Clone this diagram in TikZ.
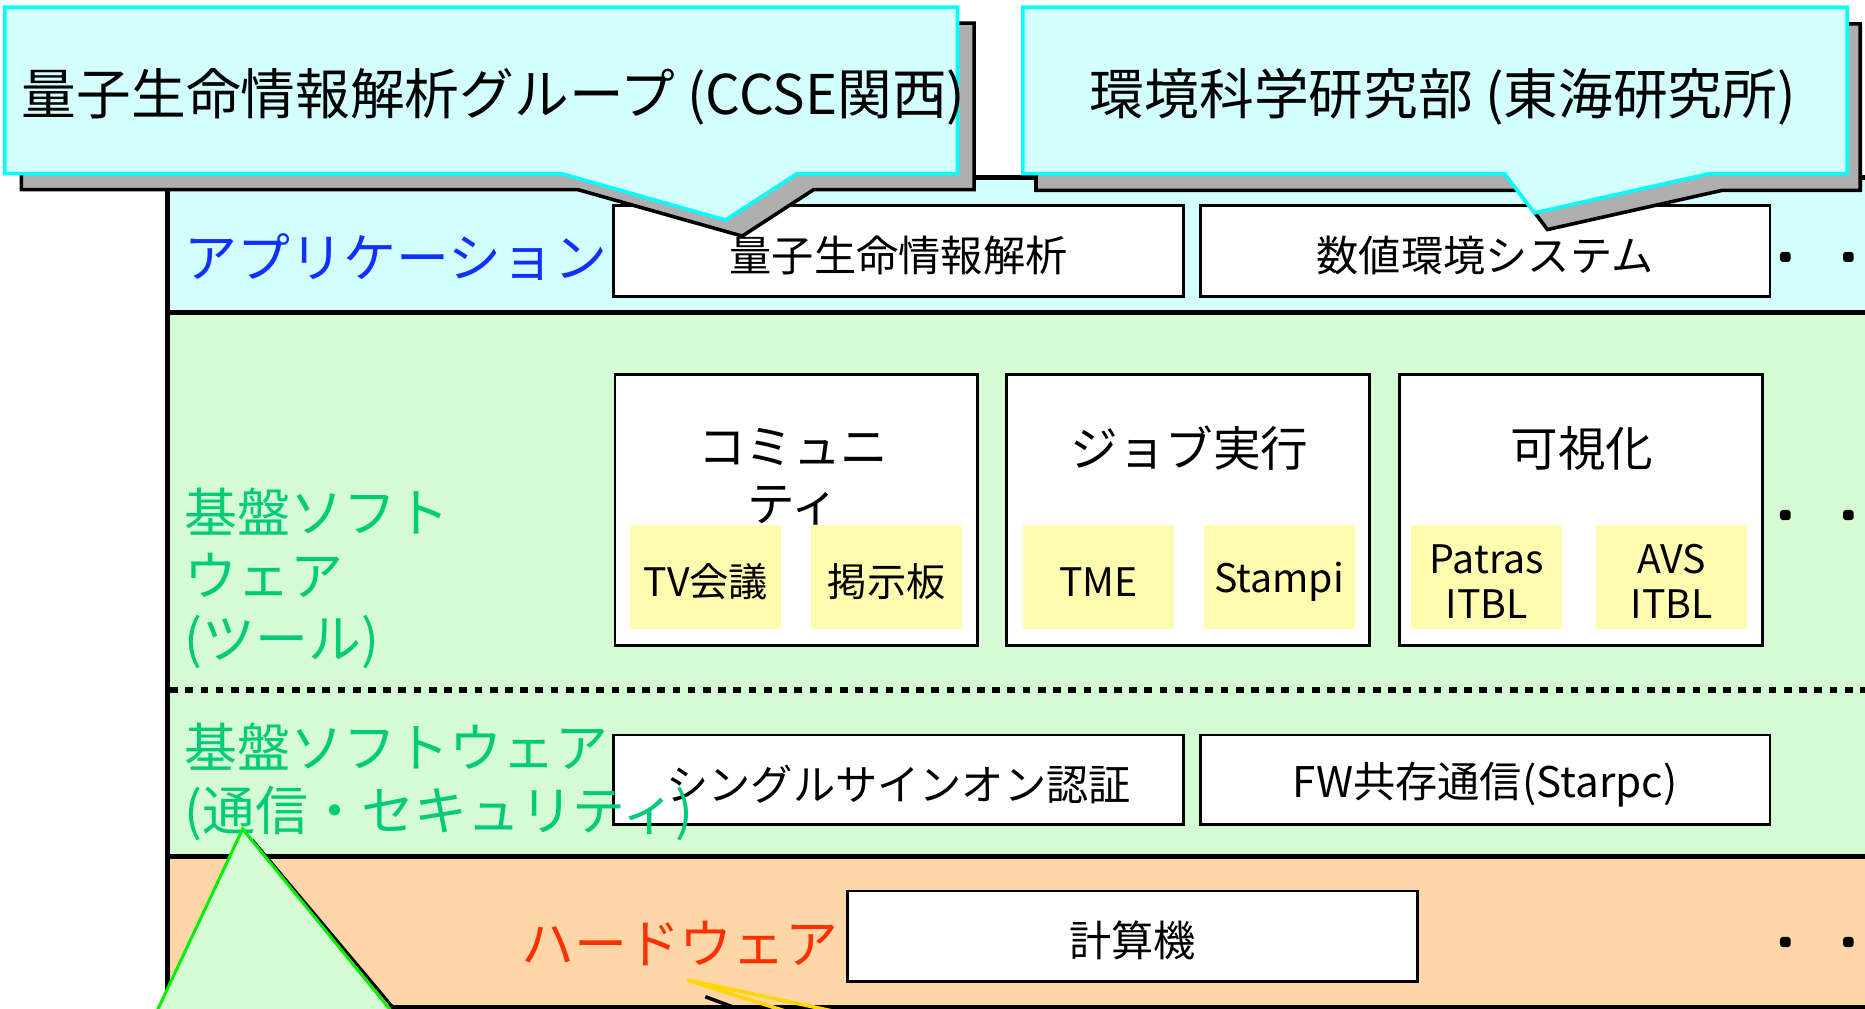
\documentclass[tikz,border=0pt]{standalone}
\usepackage{fontspec}
\setmainfont{Noto Sans CJK JP}
\definecolor{bandcyan}{RGB}{212,255,255}
\definecolor{bandgreen}{RGB}{213,251,213}
\definecolor{bandorange}{RGB}{255,214,168}
\definecolor{boxyellow}{RGB}{255,252,176}
\definecolor{txtgreen}{RGB}{0,204,120}
\definecolor{txtblue}{RGB}{16,48,255}
\definecolor{txtred}{RGB}{255,48,0}
\definecolor{calloutcyan}{RGB}{0,255,255}
\definecolor{shadowgray}{RGB}{175,175,175}
\definecolor{tailyellow}{RGB}{255,214,0}
\definecolor{trigreen}{RGB}{0,240,0}
\begin{document}
\begin{tikzpicture}[x=1pt,y=-1pt,
  layerline/.style={line width=4pt, black},
  whitebox/.style={draw=black, line width=2.3pt, fill=white, inner sep=0pt,
    minimum width=479pt, minimum height=76pt},
  boxtext/.style={inner sep=0pt, font=\fontsize{35.5}{42}\selectfont},
  toolbox/.style={draw=black, line width=2.3pt, fill=white, inner sep=0pt,
    minimum width=305pt, minimum height=228pt},
  toolttl/.style={inner sep=0pt, align=center, font=\fontsize{40}{48}\selectfont},
  yelbox/.style={fill=boxyellow, minimum width=127pt, minimum height=88pt, inner sep=0pt},
  yeltext/.style={inner sep=0pt, align=center, font=\fontsize{33}{38}\selectfont},
  dotmark/.style={fill=black, rounded corners=2.5pt, minimum width=9pt, minimum height=8.5pt, inner sep=0pt},
  greenlabel/.style={inner sep=0pt, anchor=west, align=left, text=txtgreen, font=\fontsize{44.5}{53}\selectfont},
  callout/.style={fill=bandcyan, draw=calloutcyan, line width=3pt, line join=miter},
  calshadow/.style={fill=shadowgray, draw=black, line width=3pt, line join=miter},
  calltext/.style={inner sep=0pt, font=\fontsize{46}{53}\selectfont}
]
\useasboundingbox (0,0) rectangle (1568,848);
\clip (0,0) rectangle (1568,848);

% bands
\fill[bandcyan] (141,149) rectangle (1580,263);
\fill[bandgreen] (141,263) rectangle (1580,720);
\fill[bandorange] (141,720) rectangle (1580,848);
\draw[layerline] (141,149) -- (1580,149);
\draw[layerline] (141,263) -- (1580,263);
\draw[layerline] (141,720) -- (1580,720);
\draw[layerline] (141,847) -- (1580,847);
\draw[layerline] (141,147) -- (141,850);
\draw[line width=5.5pt, dash pattern=on 6.5pt off 6.3pt] (143,580) -- (1580,580);

% application layer
\node[text=txtblue, anchor=west, inner sep=0pt, font=\fontsize{44.5}{53}\selectfont] (applab) at (155,216) {アプリケーション};
\node[whitebox] (app1) at (755.5,211) {};
\node[whitebox] (app2) at (1248.5,211) {};
\path (app1.center) ++(0,4) node[boxtext] (app1t) {量子生命情報解析};
\path (app2.center) ++(0,4) node[boxtext] (app2t) {数値環境システム};
\node[dotmark] (d1a) at (1501,216) {};
\node[dotmark] (d1b) at (1554,216) {};

% tool layer
\node[toolbox] (comm) at (669.5,429) {};
\node[toolbox] (job) at (999,429) {};
\node[toolbox] (vis) at (1329,429) {};
\node[yelbox] (tv) at (593.5,485) {};
\node[yelbox] (bbs) at (745.5,485) {};
\node[yelbox] (tme) at (923.5,485) {};
\node[yelbox] (stampi) at (1075.5,485) {};
\node[yelbox] (patras) at (1250,485) {};
\node[yelbox] (avs) at (1405.5,485) {};
\path (tv.center) ++(0,4) node[yeltext] (tvt) {TV会議};
\path (bbs.center) ++(0,4) node[yeltext] (bbst) {掲示板};
\path (tme.center) ++(0,4) node[yeltext] (tmet) {TME};
\path (stampi.center) ++(0,4) node[yeltext] (stampit) {Stampi};
\path (patras.center) ++(0,4) node[yeltext] (patrast) {Patras\\ITBL};
\path (avs.center) ++(0,4) node[yeltext] (avst) {AVS\\ITBL};
\node[toolttl] (commt) at (667,401) {コミュニ\\ティ};
\node[toolttl] (jobt) at (1000,377) {ジョブ実行};
\node[toolttl] (vist) at (1330,377) {可視化};
\node[dotmark] (d2a) at (1501,433) {};
\node[dotmark] (d2b) at (1554,433) {};
\node[greenlabel] (toollab) at (155,486) {基盤ソフト\\ウェア\\(ツール)};

% communication layer
\node[whitebox, minimum height=75pt] (sso) at (755.5,655.5) {};
\node[whitebox, minimum height=75pt] (fw) at (1248.5,655.5) {};
\path (sso.center) ++(0,4) node[boxtext] (ssot) {シングルサインオン認証};
\path (fw.center) ++(0,4) node[boxtext] (fwt) {FW共存通信(Starpc)};
\node[greenlabel] (commlab) at (155,657.5) {基盤ソフトウェア\\(通信・セキュリティ)};

% hardware layer
\node[whitebox] (hw) at (952,787) {};
\path (hw.center) ++(0,4) node[boxtext] (hwt) {計算機};
\node[text=txtred, anchor=west, inner sep=0pt, font=\fontsize{44.5}{53}\selectfont] (hwlab) at (438,793) {ハードウェア};
\node[dotmark] (d3a) at (1501,792) {};
\node[dotmark] (d3b) at (1554,792) {};

% bottom callout tails
\coordinate (yapex) at (578,824);
\draw[black, line width=3pt] (593,838) -- (628,851);
\draw[tailyellow, line width=3pt] (yapex) -- (660,850);
\draw[tailyellow, line width=3pt] (yapex) -- (700,850);
\draw[black, line width=2.5pt] (212,706) -- (333,850);
\draw[fill=bandgreen, draw=trigreen, line width=2.5pt, line join=miter] (204,697) -- (132,850) -- (329,850) -- cycle;

% top callouts
\begin{scope}[shift={(14,13.5)}]
\draw[calshadow] (4,6) -- (805,6) -- (805,146) -- (670,146) -- (610,185) -- (472,146) -- (4,146) -- cycle;
\end{scope}
\draw[callout] (4,6) -- (805,6) -- (805,146) -- (670,146) -- (610,185) -- (472,146) -- (4,146) -- cycle;
\node[calltext] (c1t) at (415,81) {量子生命情報解析グループ (CCSE関西)};

\begin{scope}[shift={(11,14)}]
\draw[calshadow] (860,6) -- (1553,6) -- (1553,146) -- (1437,146) -- (1290,179) -- (1265,146) -- (860,146) -- cycle;
\end{scope}
\draw[callout] (860,6) -- (1553,6) -- (1553,146) -- (1437,146) -- (1290,179) -- (1265,146) -- (860,146) -- cycle;
\node[calltext] (c2t) at (1213,81) {環境科学研究部 (東海研究所)};
\end{tikzpicture}
\end{document}
